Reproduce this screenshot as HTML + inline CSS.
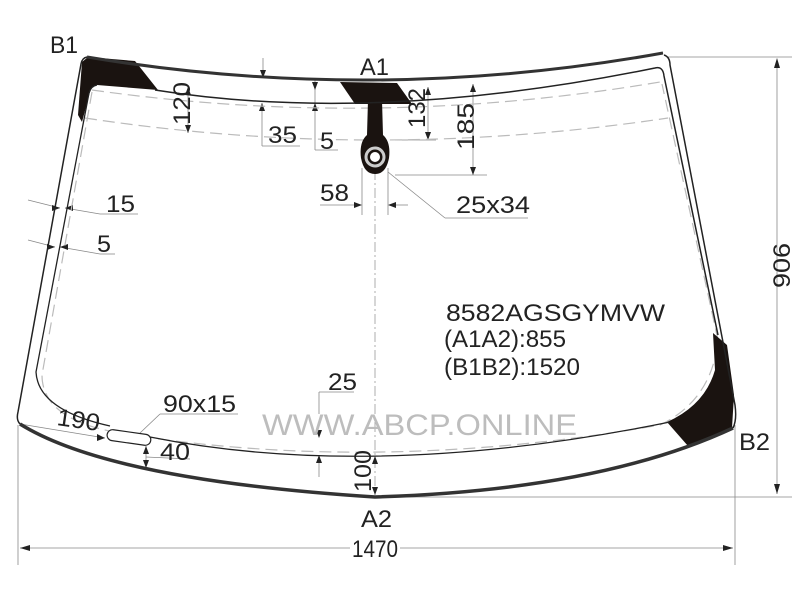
<!DOCTYPE html>
<html><head><meta charset="utf-8"><style>
html,body{margin:0;padding:0;background:#fff}
svg{display:block}
text{font-family:"Liberation Sans",sans-serif;fill:#222}
</style></head><body>
<svg width="800" height="600" viewBox="0 0 800 600" xmlns="http://www.w3.org/2000/svg">
<g stroke="#888" stroke-width="0.8" fill="none">
<line x1="667" y1="57" x2="792" y2="57"/>
<line x1="380" y1="497" x2="792" y2="497"/>
<line x1="777" y1="60" x2="777" y2="494"/>
<line x1="18" y1="425" x2="18" y2="565"/>
<line x1="735" y1="425" x2="735" y2="565"/>
<line x1="20" y1="548" x2="350" y2="548"/>
<line x1="400" y1="548" x2="733" y2="548"/>
<line x1="263" y1="58" x2="263" y2="78"/>
<line x1="188" y1="87" x2="188" y2="133"/>
<line x1="262" y1="103" x2="262" y2="146"/><line x1="262" y1="146" x2="300" y2="146"/>
<line x1="315" y1="78" x2="315" y2="150"/><line x1="315" y1="150" x2="338" y2="150"/>
<line x1="428" y1="87" x2="428" y2="140"/><line x1="395" y1="140" x2="436" y2="140"/>
<line x1="473" y1="84" x2="473" y2="175"/><line x1="395" y1="175" x2="487" y2="175"/>
<line x1="362" y1="168" x2="362" y2="215"/><line x1="388" y1="168" x2="388" y2="215"/>
<line x1="320" y1="205" x2="358" y2="205"/><line x1="392" y1="205" x2="408" y2="205"/>
<line x1="388" y1="172" x2="445" y2="218"/><line x1="445" y1="218" x2="528" y2="218"/>
<line x1="28" y1="200" x2="60" y2="208"/><line x1="65" y1="208" x2="100" y2="214"/><line x1="100" y1="214" x2="138" y2="214"/>
<line x1="28" y1="240" x2="55" y2="247"/><line x1="60" y1="247" x2="100" y2="254"/><line x1="100" y1="254" x2="115" y2="254"/>
<line x1="20" y1="424" x2="105" y2="438"/>
<line x1="140" y1="433" x2="160" y2="414"/><line x1="160" y1="414" x2="238" y2="414"/>
<line x1="146" y1="446" x2="146" y2="468"/><line x1="146" y1="457" x2="190" y2="459"/>
<line x1="319" y1="392" x2="319" y2="414"/><line x1="319" y1="392" x2="354" y2="392"/>
<line x1="319" y1="455" x2="319" y2="477"/>
</g>
<line x1="375" y1="170" x2="375" y2="495" stroke="#999" stroke-width="0.8" stroke-dasharray="10,3,2,3"/>
<g fill="#222">
<polygon points="777,58 774,68 780,68"/><polygon points="777,494 774,484 780,484"/>
<polygon points="20,548 30,545 30,551"/><polygon points="733,548 723,545 723,551"/>
<polygon points="263,78 260,70 266,70"/>
<polygon points="188,87 185,95 191,95"/><polygon points="188,133 185,125 191,125"/>
<polygon points="262,103 259,111 265,111"/>
<polygon points="315,90 312,82 318,82"/><polygon points="315,103 312,111 318,111"/>
<polygon points="428,87 425,95 431,95"/><polygon points="428,140 425,132 431,132"/>
<polygon points="473,84 470,92 476,92"/><polygon points="473,175 470,167 476,167"/>
<polygon points="362,205 354,202 354,208"/><polygon points="388,205 396,202 396,208"/>
<polygon points="60,208 52,205 52,211"/><polygon points="65,208 73,205 73,211"/>
<polygon points="55,247 47,244 47,250"/><polygon points="60,247 68,244 68,250"/>
<polygon points="105,438 97,434 97,441"/>
<polygon points="146,446 143,454 149,454"/><polygon points="146,468 143,460 149,460"/>
<polygon points="319,438 316,430 322,430"/><polygon points="319,455 316,463 322,463"/>
<polygon points="375,456 372,464 378,464"/><polygon points="375,495 372,487 378,487"/>
</g>
<g stroke="#bbb" stroke-width="1.2" fill="none" stroke-dasharray="12,6">
<path d="M92,90 Q375,130 660,82"/>
<path d="M85,118 Q375,162 668,118"/>
<path d="M92,92 L42,375 Q42,420 120,433 Q375,475 660,425 Q712,400 718,340 L662,84"/>
</g>
<g fill="#1a1310">
<path d="M82,62 L88,57 L135,61 L158,90 L97,85 Q92,86 90,92 L82,122 L78,115 Z"/>
<path d="M340,82 L397,83 L412,104 L355,104 Z"/>
<path d="M368,100 L382,100 L383,135 Q391,142 389,158 Q386,174 375,174 Q364,174 361,158 Q359,142 367,135 Z"/>
<path d="M713,333 L727,345 L734,395 L732,428 L688,446 L667,422 Q705,405 715,370 Z"/>
</g>
<circle cx="375" cy="157" r="9" fill="none" stroke="#ccc" stroke-width="3"/>
<circle cx="375" cy="157" r="5" fill="#fff"/>
<path d="M155,90 Q375,125 655,68 Q663,66 664,76 L718,335" fill="none" stroke="#222" stroke-width="1.5"/>
<path d="M97,85 Q91,86 89,93 L36,372 Q38,410 110,426 M150,437 Q375,482 670,422" fill="none" stroke="#222" stroke-width="1.3"/>
<path d="M87,57 Q375,105 663,53" fill="none" stroke="#333" stroke-width="3"/>
<path d="M87,57 Q82,58 81,64 L18,412 Q16,420 20,424" fill="none" stroke="#222" stroke-width="1.5"/>
<path d="M664,55 Q670,57 670,65 L735,405 Q737,420 733,428" fill="none" stroke="#222" stroke-width="1.5"/>
<path d="M20,424 Q110,480 375,497 Q600,490 733,428" fill="none" stroke="#333" stroke-width="3.5"/>
<rect x="107" y="432" width="44" height="11" rx="5.5" transform="rotate(8 129 437)" fill="#fff" stroke="#222" stroke-width="1.2"/>
<text x="262" y="435" font-size="30" style="fill:#bdbdbd" textLength="315" lengthAdjust="spacingAndGlyphs">WWW.ABCP.ONLINE</text>
<g font-size="24" lengthAdjust="spacingAndGlyphs">
<text x="50" y="53" textLength="28" lengthAdjust="spacingAndGlyphs">B1</text>
<text x="360" y="75" textLength="29" lengthAdjust="spacingAndGlyphs">A1</text>
<text x="739" y="450" textLength="31" lengthAdjust="spacingAndGlyphs">B2</text>
<text x="361" y="527" textLength="31" lengthAdjust="spacingAndGlyphs">A2</text>
<text x="352" y="557" textLength="46" lengthAdjust="spacingAndGlyphs">1470</text>
<text x="268" y="143" textLength="29" lengthAdjust="spacingAndGlyphs">35</text>
<text x="320" y="149" textLength="14" lengthAdjust="spacingAndGlyphs">5</text>
<text x="320" y="201" textLength="29" lengthAdjust="spacingAndGlyphs">58</text>
<text x="456" y="213" textLength="74" lengthAdjust="spacingAndGlyphs">25x34</text>
<text x="106" y="212" textLength="29" lengthAdjust="spacingAndGlyphs">15</text>
<text x="97" y="252" textLength="14" lengthAdjust="spacingAndGlyphs">5</text>
<text x="446" y="321" textLength="219" lengthAdjust="spacingAndGlyphs">8582AGSGYMVW</text>
<text x="444" y="347" textLength="122" lengthAdjust="spacingAndGlyphs">(A1A2):855</text>
<text x="444" y="375" textLength="136" lengthAdjust="spacingAndGlyphs">(B1B2):1520</text>
<text x="328" y="390" textLength="29" lengthAdjust="spacingAndGlyphs">25</text>
<text x="163" y="412" textLength="73" lengthAdjust="spacingAndGlyphs">90x15</text>
<text x="57" y="428" textLength="43" lengthAdjust="spacingAndGlyphs" transform="rotate(8 78 420)">190</text>
<text x="160" y="460" textLength="30" lengthAdjust="spacingAndGlyphs">40</text>
<text transform="translate(190 125) rotate(-90)" textLength="43" lengthAdjust="spacingAndGlyphs">120</text>
<text transform="translate(425 128) rotate(-90)" textLength="40" lengthAdjust="spacingAndGlyphs">132</text>
<text transform="translate(474 150) rotate(-90)" textLength="47" lengthAdjust="spacingAndGlyphs">185</text>
<text transform="translate(371 492) rotate(-90)" textLength="42" lengthAdjust="spacingAndGlyphs">100</text>
<text transform="translate(790 288) rotate(-90)" textLength="45" lengthAdjust="spacingAndGlyphs">906</text>
</g>
</svg>
</body></html>
